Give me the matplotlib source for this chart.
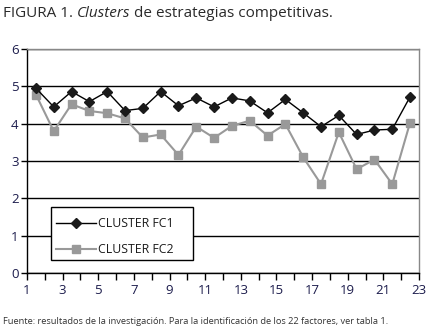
import matplotlib
matplotlib.use("Agg")
import matplotlib.pyplot as plt
from matplotlib.patches import Rectangle
import numpy as np

factors = list(range(1, 23))
fc1 = [4.95, 4.45, 4.86, 4.59, 4.86, 4.35, 4.41, 4.86, 4.48, 4.69, 4.45,
       4.69, 4.61, 4.29, 4.65, 4.29, 3.92, 4.22, 3.71, 3.83, 3.85, 4.72]
fc2 = [4.78, 3.80, 4.52, 4.34, 4.28, 4.14, 3.63, 3.71, 3.16, 3.92, 3.62,
       3.94, 4.08, 3.68, 3.99, 3.10, 2.38, 3.77, 2.78, 3.04, 2.38, 4.03]
tick_labels = [str(i) for i in range(1, 24)]
series_names = ["CLUSTER FC1", "CLUSTER FC2"]

plt.rcParams['font.family'] = ['Open Sans', 'DejaVu Sans']
W, H = 429, 330
fig = plt.figure(figsize=(W / 100, H / 100), dpi=100)
ax = fig.add_axes([27 / W, 1 - 273 / H, (419 - 27) / W, (273 - 49) / H])

ax.plot(factors, fc1, color='black', lw=1.0, marker='D', ms=5.5,
        mfc='#1a1a1a', mec='#1a1a1a', label=series_names[0], zorder=4)
ax.plot(factors, fc2, color='#999999', lw=1.5, marker='s', ms=6,
        mfc='#999999', mec='#999999', label=series_names[1], zorder=3)

ax.set_xlim(0.5, 22.5)
ax.set_ylim(0, 6)
ax.set_yticks(range(0, 7))
ax.yaxis.grid(True, color='black', lw=1.0)
ax.set_axisbelow(True)

bounds = np.arange(0.5, 23.0, 1.0)
ax.set_xticks(bounds)
ax.set_xticklabels([l if i % 2 == 0 else '' for i, l in enumerate(tick_labels)])
lab_color = '#1c1c4c'
ax.tick_params(axis='x', direction='out', length=5, width=1, colors='black',
               labelcolor=lab_color, labelsize=9.5, pad=3)
ax.tick_params(axis='y', direction='out', length=4, width=1, colors='black',
               labelcolor=lab_color, labelsize=9.5, pad=2)

for s in ['left', 'bottom']:
    ax.spines[s].set_color('black')
    ax.spines[s].set_linewidth(1.0)
for s in ['top', 'right']:
    ax.spines[s].set_color('#888888')
    ax.spines[s].set_linewidth(1.0)

# legend frame drawn manually (asymmetric padding like the original)
frame = Rectangle((51 / W, 1 - 260 / H), (193 - 51) / W, (260 - 207) / H,
                  transform=fig.transFigure, facecolor='white', edgecolor='black',
                  lw=1.0, zorder=5)
fig.add_artist(frame)

leg = fig.legend(loc='upper left', bbox_to_anchor=(56 / W, 1 - 217 / H),
                 frameon=False, fontsize=8.8, handlelength=3.3, borderpad=0,
                 labelspacing=1.05, handletextpad=0.15, borderaxespad=0,
                 markerscale=0.85)
leg.set_zorder(6)
for t in leg.get_texts():
    t.set_color('#1c1c1c')

# Title with mixed styles
fig.canvas.draw()
renderer = fig.canvas.get_renderer()
x = 3 / W
y = 1 - 17 / H
pieces = [("FIGURA 1. ", 'normal'), ("Clusters", 'italic'), (" de estrategias competitivas.", 'normal')]
for txt, style in pieces:
    t = fig.text(x, y, txt, fontsize=11, style=style, color='#2a2a2a', ha='left', va='baseline')
    bb = t.get_window_extent(renderer=renderer)
    x += bb.width / W

fig.text(3 / W, 1 - 324 / H, "Fuente: resultados de la investigación. Para la identificación de los 22 factores, ver tabla 1.",
         fontsize=6.7, color='#333333', ha='left', va='baseline')

fig.savefig("out.png", dpi=100)
